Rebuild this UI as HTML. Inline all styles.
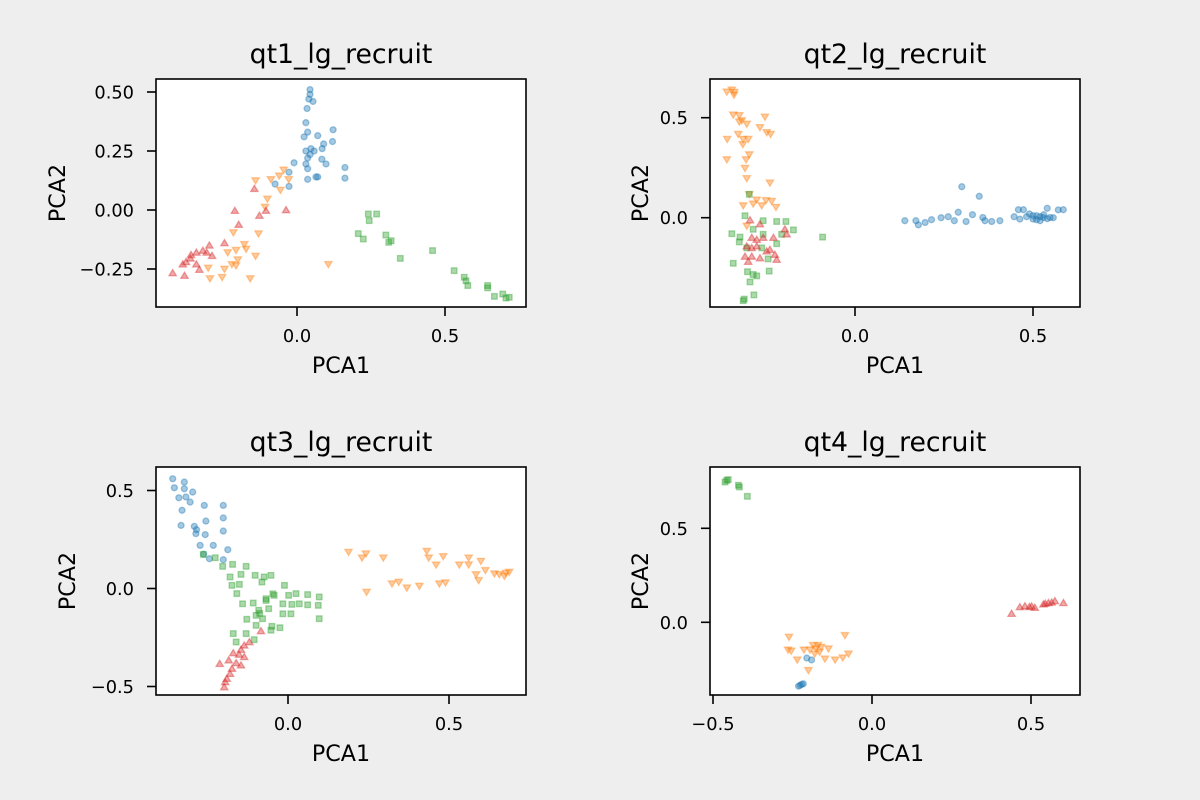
<!DOCTYPE html>
<html><head><meta charset="utf-8"><style>
body{margin:0;background:#eeeeee;}
svg{display:block;font-family:"DejaVu Sans","Liberation Sans",sans-serif;}
</style></head><body>
<svg id="fig" width="1200" height="800" viewBox="0 0 1200 800" xmlns="http://www.w3.org/2000/svg">
<rect width="1200" height="800" fill="#eeeeee"/>
</svg>
<script>
// ---- data: each series is [x values], [y values] ----
const p1BlueX=[0.044,0.044,0.04,0.054,0.034,0.03,0.036,0.07,0.122,0.12,0.09,0.047,0.03,0.058,0.036,0.084,0.098,0.03,-0.01,0.036,0.162,0.162,0.064,0.036,-0.027,-0.074,-0.027,0.024,0.044,0.085,0.07];
const p1BlueY=[0.51,0.49,0.47,0.46,0.43,0.37,0.33,0.315,0.34,0.29,0.28,0.26,0.25,0.25,0.22,0.215,0.195,0.195,0.2,0.175,0.18,0.135,0.14,0.13,0.10,0.11,0.16,0.31,0.235,0.26,0.14];
const p1OrangeX=[-0.045,-0.06,-0.028,-0.14,-0.088,-0.056,-0.10,-0.108,-0.215,-0.13,-0.178,-0.234,-0.206,-0.172,-0.2,-0.206,-0.14,-0.30,-0.245,-0.294,-0.253,-0.158,0.106,-0.22];
const p1OrangeY=[0.17,0.145,0.13,0.125,0.13,0.085,0.047,0.013,-0.095,-0.10,-0.145,-0.18,-0.17,-0.165,-0.21,-0.235,-0.195,-0.245,-0.25,-0.29,-0.285,-0.29,-0.23,-0.23];
const p1GreenX=[0.241,0.269,0.244,0.207,0.224,0.30,0.318,0.31,0.458,0.349,0.531,0.565,0.577,0.571,0.644,0.667,0.695,0.706,0.717,0.644];
const p1GreenY=[-0.017,-0.017,-0.045,-0.10,-0.123,-0.106,-0.13,-0.137,-0.172,-0.205,-0.257,-0.285,-0.32,-0.30,-0.32,-0.366,-0.356,-0.373,-0.37,-0.33];
const p1RedX=[-0.144,-0.21,-0.127,-0.105,-0.037,-0.197,-0.245,-0.296,-0.318,-0.34,-0.358,-0.287,-0.375,-0.386,-0.34,-0.33,-0.42,-0.38,-0.36,-0.305];
const p1RedY=[0.09,-0.003,-0.024,-0.003,0.0,-0.062,-0.14,-0.15,-0.172,-0.18,-0.19,-0.194,-0.22,-0.23,-0.23,-0.253,-0.267,-0.278,-0.205,-0.18];

const p2BlueX=[0.14,0.171,0.178,0.197,0.215,0.242,0.262,0.279,0.29,0.312,0.33,0.359,0.365,0.384,0.407,0.30,0.349,0.447,0.459,0.473,0.49,0.51,0.529,0.548,0.54,0.571,0.585,0.463,0.52,0.50,0.557,0.482,0.51,0.53,0.5,0.52,0.54];
const p2BlueY=[-0.015,-0.015,-0.036,-0.024,-0.01,0.0,0.005,-0.015,0.027,-0.019,0.015,0.001,-0.015,-0.019,-0.015,0.155,0.107,0.005,0.04,0.04,0.019,0.01,0.001,0.001,0.047,0.039,0.04,-0.007,-0.015,-0.007,0,0.005,-0.01,0.015,0.01,0.005,-0.005];
const p2OrangeX=[-0.36,-0.346,-0.34,-0.339,-0.342,-0.325,-0.318,-0.304,-0.253,-0.267,-0.248,-0.237,-0.328,-0.314,-0.30,-0.359,-0.315,-0.297,-0.306,-0.36,-0.309,-0.304,-0.239,-0.297,-0.276,-0.314,-0.286,-0.262,-0.234,-0.222,-0.25,-0.304,-0.325];
const p2OrangeY=[0.63,0.64,0.614,0.628,0.515,0.512,0.486,0.469,0.504,0.452,0.427,0.418,0.418,0.393,0.393,0.393,0.367,0.316,0.291,0.291,0.248,0.197,0.175,0.117,0.09,0.061,0.07,0.061,0.083,0.053,0.087,-0.041,0.48];
const p2GreenX=[-0.297,-0.309,-0.346,-0.323,-0.325,-0.286,-0.258,-0.22,-0.194,-0.173,-0.258,-0.091,-0.206,-0.304,-0.342,-0.244,-0.302,-0.286,-0.276,-0.295,-0.241,-0.311,-0.314,-0.284,-0.22,-0.262];
const p2GreenY=[0.117,0.01,-0.08,-0.097,-0.121,-0.058,-0.015,-0.019,-0.019,-0.061,-0.083,-0.097,-0.083,-0.151,-0.228,-0.206,-0.27,-0.284,-0.291,-0.321,-0.267,-0.407,-0.415,-0.386,-0.13,-0.151];
const p2RedX=[-0.295,-0.267,-0.197,-0.192,-0.29,-0.258,-0.229,-0.304,-0.29,-0.276,-0.239,-0.309,-0.29,-0.225,-0.22,-0.267,-0.3,-0.248,-0.276];
const p2RedY=[-0.012,-0.032,-0.058,-0.083,-0.10,-0.10,-0.10,-0.143,-0.151,-0.143,-0.16,-0.194,-0.194,-0.185,-0.21,-0.202,-0.22,-0.168,-0.11];

const p3BlueX=[-0.358,-0.322,-0.353,-0.322,-0.296,-0.339,-0.317,-0.304,-0.329,-0.26,-0.201,-0.255,-0.201,-0.332,-0.291,-0.284,-0.286,-0.257,-0.201,-0.273,-0.232,-0.187,-0.244,-0.201,-0.262];
const p3BlueY=[0.56,0.543,0.514,0.509,0.492,0.463,0.467,0.441,0.399,0.424,0.424,0.344,0.36,0.322,0.317,0.30,0.28,0.275,0.293,0.22,0.22,0.198,0.152,0.147,0.175];
const p3OrangeX=[0.188,0.23,0.242,0.296,0.244,0.323,0.344,0.369,0.408,0.431,0.437,0.46,0.482,0.47,0.489,0.532,0.561,0.561,0.599,0.584,0.592,0.613,0.641,0.656,0.677,0.687,0.672];
const p3OrangeY=[0.186,0.157,0.178,0.157,-0.018,0.025,0.033,0.004,0.013,0.191,0.157,0.121,0.164,0.025,0.03,0.121,0.157,0.122,0.14,0.072,0.042,0.093,0.076,0.072,0.079,0.084,0.064];
const p3GreenX=[-0.263,-0.226,-0.203,-0.172,-0.13,-0.18,-0.146,-0.102,-0.074,-0.053,-0.174,-0.151,-0.159,-0.081,-0.011,-0.068,-0.043,0.002,0.025,0.061,0.097,-0.141,-0.108,-0.091,-0.06,-0.016,0.012,0.035,0.061,0.094,-0.099,-0.079,-0.016,0.009,0.097,-0.128,-0.099,-0.05,-0.025,-0.053,-0.17,-0.13,-0.105,-0.161,-0.088,-0.068,-0.047];
const p3GreenY=[0.174,0.157,0.113,0.123,0.113,0.059,0.072,0.067,0.059,0.067,0.016,0.021,-0.026,0.033,0.016,-0.052,-0.035,-0.035,-0.026,-0.031,-0.043,-0.078,-0.074,-0.111,-0.103,-0.078,-0.081,-0.078,-0.083,-0.086,-0.137,-0.154,-0.129,-0.129,-0.154,-0.157,-0.188,-0.193,-0.2,-0.213,-0.23,-0.23,-0.261,-0.273,-0.127,-0.061,-0.027];
const p3RedX=[-0.084,-0.12,-0.136,-0.146,-0.17,-0.136,-0.184,-0.212,-0.161,-0.146,-0.174,-0.18,-0.19,-0.195,-0.198,-0.152];
const p3RedY=[-0.217,-0.273,-0.29,-0.312,-0.329,-0.349,-0.366,-0.384,-0.38,-0.392,-0.409,-0.435,-0.46,-0.477,-0.503,-0.337];

const p4BlueX=[-0.226,-0.221,-0.216,-0.231,-0.205,-0.19];
const p4BlueY=[-0.335,-0.33,-0.327,-0.34,-0.19,-0.2];
const p4OrangeX=[-0.261,-0.085,-0.264,-0.254,-0.235,-0.214,-0.20,-0.185,-0.176,-0.17,-0.16,-0.137,-0.148,-0.116,-0.092,-0.074,-0.18,-0.195,-0.165];
const p4OrangeY=[-0.078,-0.069,-0.146,-0.152,-0.199,-0.146,-0.255,-0.122,-0.14,-0.122,-0.131,-0.14,-0.194,-0.199,-0.188,-0.167,-0.167,-0.146,-0.157];
const p4GreenX=[-0.457,-0.452,-0.462,-0.42,-0.417,-0.392];
const p4GreenY=[0.755,0.759,0.746,0.729,0.72,0.67];
const p4RedX=[0.439,0.465,0.481,0.502,0.512,0.539,0.555,0.575,0.602,0.495,0.545,0.565];
const p4RedY=[0.046,0.081,0.086,0.085,0.078,0.096,0.103,0.113,0.103,0.082,0.1,0.106];

const p1XTicks=[0.0,0.5], p1YTicks=[0.5,0.25,0.0,-0.25];
const p1XTickLabels=["0.0","0.5"], p1YTickLabels=["0.50","0.25","0.00","\u22120.25"];
const p2XTicks=[0.0,0.5], p2YTicks=[0.5,0.0];
const p2XTickLabels=["0.0","0.5"], p2YTickLabels=["0.5","0.0"];
const p3XTicks=[0.0,0.5], p3YTicks=[0.5,0.0,-0.5];
const p3XTickLabels=["0.0","0.5"], p3YTickLabels=["0.5","0.0","\u22120.5"];
const p4XTicks=[-0.5,0.0,0.5], p4YTicks=[0.5,0.0];
const p4XTickLabels=["\u22120.5","0.0","0.5"], p4YTickLabels=["0.5","0.0"];

const NS="http://www.w3.org/2000/svg";
const fig=document.getElementById('fig');
function mk(tag,attrs,parent){const e=document.createElementNS(NS,tag);for(const k in attrs)e.setAttribute(k,attrs[k]);parent.appendChild(e);return e;}

const panels=[
 {id:'qt1',title:'qt1_lg_recruit',L:156,T:79,W:370,H:228,x0:297,xs:296,y0:210,ys:236,yLab:65,
  xt:p1XTicks,xl:p1XTickLabels,yt:p1YTicks,yl:p1YTickLabels,
  series:[[p1BlueX,p1BlueY,'#1f77b4','circle'],[p1OrangeX,p1OrangeY,'#ff7f0e','down'],[p1GreenX,p1GreenY,'#2ca02c','square'],[p1RedX,p1RedY,'#d62728','up']]},
 {id:'qt2',title:'qt2_lg_recruit',L:710,T:79,W:370,H:228,x0:855,xs:356,y0:217.7,ys:200,yLab:648,
  xt:p2XTicks,xl:p2XTickLabels,yt:p2YTicks,yl:p2YTickLabels,
  series:[[p2BlueX,p2BlueY,'#1f77b4','circle'],[p2OrangeX,p2OrangeY,'#ff7f0e','down'],[p2GreenX,p2GreenY,'#2ca02c','square'],[p2RedX,p2RedY,'#d62728','up']]},
 {id:'qt3',title:'qt3_lg_recruit',L:156,T:467,W:370,H:228,x0:288,xs:322,y0:588.5,ys:196,yLab:75,
  xt:p3XTicks,xl:p3XTickLabels,yt:p3YTicks,yl:p3YTickLabels,
  series:[[p3BlueX,p3BlueY,'#1f77b4','circle'],[p3OrangeX,p3OrangeY,'#ff7f0e','down'],[p3GreenX,p3GreenY,'#2ca02c','square'],[p3RedX,p3RedY,'#d62728','up']]},
 {id:'qt4',title:'qt4_lg_recruit',L:710,T:467,W:370,H:228,x0:872,xs:318,y0:622.3,ys:188,yLab:648,
  xt:p4XTicks,xl:p4XTickLabels,yt:p4YTicks,yl:p4YTickLabels,
  series:[[p4BlueX,p4BlueY,'#1f77b4','circle'],[p4OrangeX,p4OrangeY,'#ff7f0e','down'],[p4GreenX,p4GreenY,'#2ca02c','square'],[p4RedX,p4RedY,'#d62728','up']]}
];
const seriesNames={circle:'blue-circle-point',down:'orange-triangle-down-point',square:'green-square-point',up:'red-triangle-up-point'};

panels.forEach(p=>{
  const g=mk('g',{},fig);
  
  
  const bg=mk('rect',{x:p.L,y:p.T,width:p.W,height:p.H,fill:'#fff'},g);
  
  
  const sx=v=>p.x0+v*p.xs, sy=v=>p.y0-v*p.ys;
  const cp='clip-'+p.id;
  const cl=mk('clipPath',{id:cp},g); mk('rect',{x:p.L,y:p.T,width:p.W,height:p.H},cl);
  const mg=mk('g',{'clip-path':'url(#'+cp+')'},g);
  p.series.forEach(s=>{
    const [xs,ys,col,shape]=s;
    xs.forEach((xv,i)=>{
      const cx=sx(xv), cy=sy(ys[i]); let m;
      const st={fill:col,'fill-opacity':0.4,stroke:col,'stroke-opacity':0.4,'stroke-width':1.3};
      if(shape==='circle') m=mk('circle',Object.assign({cx:cx,cy:cy,r:3},st),mg);
      else if(shape==='square') m=mk('rect',Object.assign({x:cx-2.8,y:cy-2.8,width:5.6,height:5.6},st),mg);
      else if(shape==='down') m=mk('polygon',Object.assign({points:`${cx-3.7},${cy-2.7} ${cx+3.7},${cy-2.7} ${cx},${cy+3.5}`},st),mg);
      else m=mk('polygon',Object.assign({points:`${cx-3.7},${cy+2.7} ${cx+3.7},${cy+2.7} ${cx},${cy-3.5}`},st),mg);
      
      
    });
  });
  const fr=mk('rect',{x:p.L,y:p.T,width:p.W,height:p.H,fill:'none',stroke:'#000','stroke-width':1.6},g);
  
  
  p.xt.forEach((v,i)=>{
    const x=sx(v), b=p.T+p.H;
    const tk=mk('line',{x1:x,x2:x,y1:b,y2:b+9,stroke:'#000','stroke-width':1.6},g);
    
    
    const t=mk('text',{x:x,y:b+35,'text-anchor':'middle','font-size':'17.8px',fill:'#000'},g);
    t.textContent=p.xl[i];
    
    
  });
  p.yt.forEach((v,i)=>{
    const y=sy(v);
    const tk=mk('line',{x1:p.L-9,x2:p.L,y1:y,y2:y,stroke:'#000','stroke-width':1.6},g);
    
    
    const t=mk('text',{x:p.L-22,y:y+6.5,'text-anchor':'end','font-size':'17.8px',fill:'#000'},g);
    t.textContent=p.yl[i];
    
    
  });
  const ti=mk('text',{x:p.L+p.W/2,y:p.T-16,'text-anchor':'middle','font-size':'26.7px',fill:'#000'},g);
  ti.textContent=p.title;
  
  
  const xl=mk('text',{x:p.L+p.W/2,y:p.T+p.H+66,'text-anchor':'middle','font-size':'22.2px',fill:'#000'},g);
  xl.textContent='PCA1';
  
  
  const yx=p.yLab, yy=p.T+p.H/2;
  const yl=mk('text',{x:yx,y:yy,'text-anchor':'middle','font-size':'22.2px',fill:'#000',transform:`rotate(-90 ${yx} ${yy})`},g);
  yl.textContent='PCA2';
  
  
});
</script>
</body></html>
